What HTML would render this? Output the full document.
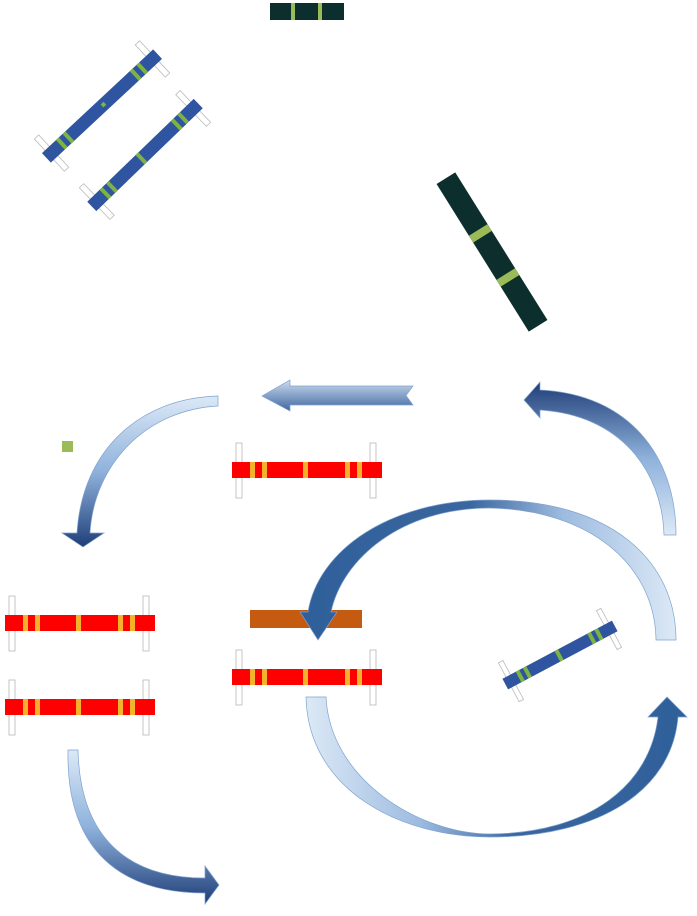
<!DOCTYPE html>
<html><head><meta charset="utf-8"><style>html,body{margin:0;padding:0;background:#fff}svg{display:block}</style></head><body>
<svg width="697" height="916" viewBox="0 0 697 916" xmlns="http://www.w3.org/2000/svg">
<defs>
<linearGradient id="gA" x1="0" y1="0" x2="0" y2="1"><stop offset="0" stop-color="#dce9f6"/><stop offset="0.5" stop-color="#8fb2dc"/><stop offset="1" stop-color="#1f3e78"/></linearGradient>
<linearGradient id="gB" x1="0" y1="1" x2="0" y2="0"><stop offset="0" stop-color="#dce9f6"/><stop offset="0.5" stop-color="#8fb2dc"/><stop offset="1" stop-color="#1f3e78"/></linearGradient>
<linearGradient id="gC" x1="1" y1="0" x2="0" y2="0"><stop offset="0" stop-color="#dce9f6"/><stop offset="0.3" stop-color="#9dbbe0"/><stop offset="0.55" stop-color="#3a669e"/><stop offset="1" stop-color="#2f5f9a"/></linearGradient>
<linearGradient id="gD" x1="0" y1="0" x2="1" y2="0"><stop offset="0" stop-color="#dce9f6"/><stop offset="0.3" stop-color="#9dbbe0"/><stop offset="0.55" stop-color="#3a669e"/><stop offset="1" stop-color="#2f5f9a"/></linearGradient>
<linearGradient id="gS" x1="0" y1="0" x2="0" y2="1"><stop offset="0" stop-color="#cddcef"/><stop offset="1" stop-color="#3f679f"/></linearGradient>
<g id="red">
<rect x="4" y="-19" width="6" height="55" fill="#fff" stroke="#b8b8b8" stroke-width="0.8"/>
<rect x="138" y="-19" width="6" height="55" fill="#fff" stroke="#b8b8b8" stroke-width="0.8"/>
<rect x="0" y="0" width="150" height="16" fill="#ff0000"/>
<rect x="18" y="0" width="5" height="16" fill="#f5b12a"/>
<rect x="30" y="0" width="5" height="16" fill="#f5b12a"/>
<rect x="71" y="0" width="5" height="16" fill="#f5b12a"/>
<rect x="113" y="0" width="5" height="16" fill="#f5b12a"/>
<rect x="125" y="0" width="5" height="16" fill="#f5b12a"/>
</g>
</defs>

<rect x="270" y="3" width="74" height="17" fill="#0c2e2c"/>
<rect x="291" y="3" width="4" height="17" fill="#9bbb59"/>
<rect x="318" y="3" width="4" height="17" fill="#9bbb59"/>

<g transform="translate(102,106) rotate(-43)">
<rect x="-72" y="-22" width="6" height="44" fill="#fff" stroke="#bbb" stroke-width="0.8"/>
<rect x="66" y="-22" width="6" height="44" fill="#fff" stroke="#bbb" stroke-width="0.8"/>
<rect x="-76" y="-6.5" width="152" height="13" fill="#2f54a0"/>
<rect x="-57" y="-6.5" width="4" height="13" fill="#7cb342"/>
<rect x="-48" y="-6.5" width="4" height="13" fill="#7cb342"/>
<rect x="44" y="-6.5" width="4" height="13" fill="#7cb342"/>
<rect x="53" y="-6.5" width="4" height="13" fill="#7cb342"/>
<rect x="0" y="-2" width="4" height="4" fill="#7cb342"/>
</g>
<g transform="translate(145,155) rotate(-44)">
<rect x="-70" y="-22" width="6" height="44" fill="#fff" stroke="#bbb" stroke-width="0.8"/>
<rect x="64" y="-22" width="6" height="44" fill="#fff" stroke="#bbb" stroke-width="0.8"/>
<rect x="-74" y="-6.5" width="148" height="13" fill="#2f54a0"/>
<rect x="-57" y="-6.5" width="4" height="13" fill="#7cb342"/>
<rect x="-48" y="-6.5" width="4" height="13" fill="#7cb342"/>
<rect x="-7" y="-6.5" width="4" height="13" fill="#7cb342"/>
<rect x="42" y="-6.5" width="4" height="13" fill="#7cb342"/>
<rect x="51" y="-6.5" width="4" height="13" fill="#7cb342"/>
</g>

<g transform="translate(492,252) rotate(58)">
<rect x="-87" y="-11" width="174" height="22" fill="#0c2e2c"/>
<rect x="-26" y="-11" width="8" height="22" fill="#9bbb59"/>
<rect x="26" y="-11" width="8" height="22" fill="#9bbb59"/>
</g>

<path d="M413,386 L290,386 L290,380 L262,396 L290,411 L290,405 L413,405 L406,395.5 Z" fill="url(#gS)" stroke="#7fa3cf" stroke-width="0.7"/>

<path d="M218,396 C140,398 82,450 77,533 L62,533 L83,547 L104,533 L90,533 C94,465 145,410 218,406 Z" fill="url(#gA)" stroke="#7fa3cf" stroke-width="0.7"/>

<path d="M676,535 L664,535 C662,470 620,415 540,410 L540,418 L524,400 L540,382 L540,390 C628,394 676,455 676,535 Z" fill="url(#gB)" stroke="#7fa3cf" stroke-width="0.7"/>

<rect x="62" y="441" width="11" height="11" fill="#9bbb59"/>

<use href="#red" x="232" y="462"/>
<use href="#red" x="5" y="615"/>
<use href="#red" x="5" y="699"/>
<use href="#red" x="232" y="669"/>

<rect x="250" y="610" width="112" height="18" fill="#c55a11"/>

<path d="M676,640 C676,560 610,500 490,500 C390,500 318,550 308,612 L300,612 L318,640 L337,612 L331,612 C342,560 400,508 490,508 C590,510 655,565 656,640 Z" fill="url(#gC)" stroke="#7fa3cf" stroke-width="0.7"/>

<path d="M306,697 C308,790 400,837 490,837 C600,837 672,790 678,717 L687,717 L667,697 L648,717 L658,717 C650,785 590,833 490,834 C420,834 330,780 326,697 Z" fill="url(#gD)" stroke="#7fa3cf" stroke-width="0.7"/>

<path d="M68,750 C66,850 120,893 205,893 L205,904 L219,885 L205,866 L205,878 C125,878 80,835 78,750 Z" fill="url(#gA)" stroke="#7fa3cf" stroke-width="0.7"/>

<g transform="translate(560,655) rotate(-28)">
<rect x="-58" y="-22" width="5" height="44" fill="#fff" stroke="#bbb" stroke-width="0.8"/>
<rect x="53" y="-22" width="5" height="44" fill="#fff" stroke="#bbb" stroke-width="0.8"/>
<rect x="-62" y="-6" width="124" height="12" fill="#2f54a0"/>
<rect x="-47" y="-6" width="4" height="12" fill="#7cb342"/>
<rect x="-39" y="-6" width="4" height="12" fill="#7cb342"/>
<rect x="-3" y="-6" width="4" height="12" fill="#7cb342"/>
<rect x="34" y="-6" width="4" height="12" fill="#7cb342"/>
<rect x="42" y="-6" width="4" height="12" fill="#7cb342"/>
</g>
</svg>
</body></html>
